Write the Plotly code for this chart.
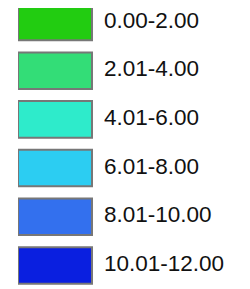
import plotly.graph_objects as go

labels = ["0.00-2.00", "2.01-4.00", "4.01-6.00", "6.01-8.00", "8.01-10.00", "10.01-12.00"]
colors = ["#22cc11", "#33dd77", "#2eebcb", "#2ccdf2", "#3370ee", "#0a1fe0"]
swatch = [1, 1, 1, 1, 1, 1]

# page body has an 8px margin; figure is sized to fit the 250x289 window
W, H = 242, 281
ML = 10
box_px = 74
plot_w = W - ML
xmax = plot_w / box_px
text_x = [v + 12 / box_px for v in swatch]

fig = go.Figure()
fig.add_trace(go.Bar(
    x=swatch, y=labels, orientation="h",
    marker=dict(color=colors, line=dict(color="#777777", width=2)),
    hoverinfo="skip", showlegend=False,
))
fig.add_trace(go.Scatter(
    x=text_x, y=labels, mode="text", text=labels,
    textposition="middle right",
    textfont=dict(family="Liberation Sans, Arial, sans-serif", size=22.5, color="#111111"),
    hoverinfo="skip", showlegend=False, cliponaxis=False,
))
fig.update_layout(
    width=W, height=H,
    margin=dict(l=ML, r=0, t=0, b=0),
    paper_bgcolor="white", plot_bgcolor="white",
    bargap=0.25,
    xaxis=dict(range=[0, xmax], visible=False, fixedrange=True),
    yaxis=dict(range=[5.483, -0.287], visible=False, fixedrange=True, type="category"),
)
fig.write_html("out.html", config=dict(displayModeBar=False))
